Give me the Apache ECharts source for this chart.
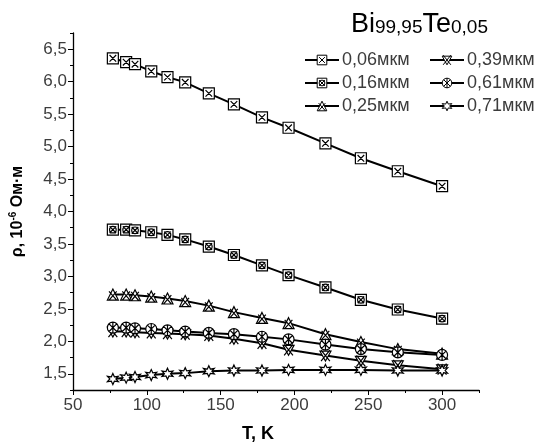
<!DOCTYPE html>
<html>
<head>
<meta charset="utf-8">
<script src="https://cdn.jsdelivr.net/npm/echarts@6/dist/echarts.min.js"></script>
<style>
html, body { margin: 0; padding: 0; background: #fff; }
#chart { width: 535px; height: 448px; }
</style>
</head>
<body>
<div id="chart"></div>
<script>
// temperature points (K), same for every film
var temps = [77, 86, 92, 103, 114, 126, 142, 159, 178, 196, 221, 245, 270, 300];

// resistivity, 10^-6 Ohm*m, per film thickness
var rho006 = [6.36, 6.30, 6.27, 6.16, 6.07, 5.99, 5.82, 5.65, 5.45, 5.29, 5.05, 4.82, 4.62, 4.39];
var rho016 = [3.72, 3.72, 3.71, 3.68, 3.64, 3.57, 3.46, 3.33, 3.17, 3.02, 2.83, 2.64, 2.49, 2.35];
var rho025 = [2.72, 2.72, 2.71, 2.69, 2.66, 2.62, 2.55, 2.45, 2.36, 2.28, 2.11, 1.99, 1.88, 1.81];
var rho039 = [2.15, 2.15, 2.14, 2.13, 2.12, 2.11, 2.09, 2.04, 1.97, 1.87, 1.78, 1.70, 1.63, 1.57];
var rho061 = [2.21, 2.21, 2.20, 2.19, 2.17, 2.15, 2.13, 2.11, 2.07, 2.03, 1.95, 1.88, 1.83, 1.79];
var rho071 = [1.42, 1.44, 1.45, 1.48, 1.50, 1.51, 1.54, 1.55, 1.55, 1.56, 1.56, 1.56, 1.55, 1.55];

var names = ['0,06мкм', '0,16мкм', '0,25мкм', '0,39мкм', '0,61мкм', '0,71мкм'];

var xTicks = [50, 100, 150, 200, 250, 300];
var yTicks = [1.5, 2.0, 2.5, 3.0, 3.5, 4.0, 4.5, 5.0, 5.5, 6.0, 6.5];

// marker shapes (imitating the Origin symbols)
var symSqX = 'path://M0,0L20,0L20,20L0,20ZM4,4L16,16M16,4L4,16';
var symSqO = 'path://M0,0L20,0L20,20L0,20ZM4,4L16,16M16,4L4,16M16,10A6,6,0,1,1,4,10A6,6,0,1,1,16,10';
var symTriX = 'path://M10,0L20,20L0,20ZM3,4L17,20M17,4L3,20';
var symHour = 'path://M0,2L20,2L10,20ZM2,0L18,20M18,0L2,20';
var symCirX = 'path://M20,10A10,10,0,1,1,0,10A10,10,0,1,1,20,10ZM3,3L17,17M17,3L3,17M10,0L10,20';
var symStar = 'path://M10,0L12.5,6L19,5L15,10L19,15L12.5,14L10,20L7.5,14L1,15L5,10L1,5L7.5,6Z';

function pairs(ys) {
	var out = [];
	for (var i = 0; i < temps.length; i++) {
		out.push([temps[i], ys[i]]);
	}
	return out;
}

function makeSeries(name, ys, sym) {
	return {
		name: name,
		type: 'line',
		xAxisIndex: 0,
		yAxisIndex: 0,
		data: pairs(ys),
		symbol: sym,
		symbolSize: 11,
		showAllSymbol: true,
		lineStyle: { color: '#000', width: 2 },
		itemStyle: { color: '#fff', borderColor: '#000', borderWidth: 1.2 },
		emphasis: { disabled: true },
		z: 3
	};
}

var fmt = function (v) {
	return v.toFixed(1).replace('.', ',');
};

var lblColor = '#3c3c3c';

var legendBase = {
	orient: 'vertical',
	top: 46,
	itemGap: 5,
	itemWidth: 34,
	itemHeight: 12,
	itemStyle: { color: '#fff', borderColor: '#000', borderWidth: 1 },
	lineStyle: { color: '#000', width: 2 },
	textStyle: { fontSize: 18, color: lblColor, padding: [0, 0, 0, -2] }
};

var myChart = echarts.init(document.getElementById('chart'));
var option = {
	animation: false,
	backgroundColor: '#fff',
	textStyle: { fontFamily: 'Liberation Sans' },
	title: {
		text: '{a|Bi}{b|99,95}{a|Te}{b|0,05}',
		right: 42,
		top: 6,
		textStyle: {
			fontWeight: 'normal',
			rich: {
				a: { fontSize: 27, fontWeight: 'normal', color: '#000', fontFamily: 'Liberation Sans', verticalAlign: 'bottom' },
				b: { fontSize: 19, fontWeight: 'normal', color: '#000', fontFamily: 'Liberation Sans', verticalAlign: 'bottom', padding: [0, 0, 1, 0] }
			}
		}
	},
	legend: [
		Object.assign({}, legendBase, { left: 299, data: [names[0], names[1], names[2]] }),
		Object.assign({}, legendBase, { left: 424, data: [names[3], names[4], names[5]] })
	],
	grid: { left: 72, right: 56, top: 33, bottom: 54 },
	xAxis: [{
		// minor ticks every 25
		type: 'value',
		min: 50,
		max: 325,
		interval: 25,
		position: 'bottom',
		axisLine: { onZero: false, lineStyle: { color: '#000', width: 1.3 } },
		axisTick: { length: 3, lineStyle: { color: '#000' } },
		axisLabel: { show: false },
		splitLine: { show: false }
	}, {
		type: 'value',
		min: 50,
		max: 325,
		position: 'bottom',
		axisLine: { show: false, onZero: false },
		axisTick: { customValues: xTicks, length: 5, lineStyle: { color: '#000' } },
		axisLabel: { customValues: xTicks, fontSize: 17, color: lblColor, margin: 7 },
		splitLine: { show: false },
		name: 'T, K',
		nameLocation: 'middle',
		nameGap: 35,
		nameTextStyle: { fontSize: 18, fontWeight: 'bold', color: '#000', padding: [0, 36, 0, 0] }
	}],
	yAxis: [{
		// minor ticks every 0.25
		type: 'value',
		min: 1.25,
		max: 6.75,
		interval: 0.25,
		position: 'left',
		axisLine: { show: true, onZero: false, lineStyle: { color: '#000', width: 1.3 } },
		axisTick: { length: 3, lineStyle: { color: '#000' } },
		axisLabel: { show: false },
		splitLine: { show: false }
	}, {
		type: 'value',
		min: 1.25,
		max: 6.75,
		position: 'left',
		axisLine: { show: false, onZero: false },
		axisTick: { customValues: yTicks, length: 5, lineStyle: { color: '#000' } },
		axisLabel: { customValues: yTicks, fontSize: 17, color: lblColor, margin: 6, formatter: fmt },
		splitLine: { show: false },
		name: '{a|ρ, 10}{s|-6}{a| Ом·м}',
		nameLocation: 'middle',
		nameRotate: 90,
		nameGap: 45,
		nameTextStyle: {
			rich: {
				a: { fontSize: 16, fontWeight: 'bold', color: '#000', fontFamily: 'Liberation Sans' },
				s: { fontSize: 10, fontWeight: 'bold', color: '#000', fontFamily: 'Liberation Sans', padding: [0, 0, 10, 0] }
			}
		}
	}],
	series: [
		makeSeries(names[0], rho006, symSqX),
		makeSeries(names[1], rho016, symSqO),
		makeSeries(names[2], rho025, symTriX),
		makeSeries(names[3], rho039, symHour),
		makeSeries(names[4], rho061, symCirX),
		makeSeries(names[5], rho071, symStar)
	]
};
myChart.setOption(option);
</script>
</body>
</html>
